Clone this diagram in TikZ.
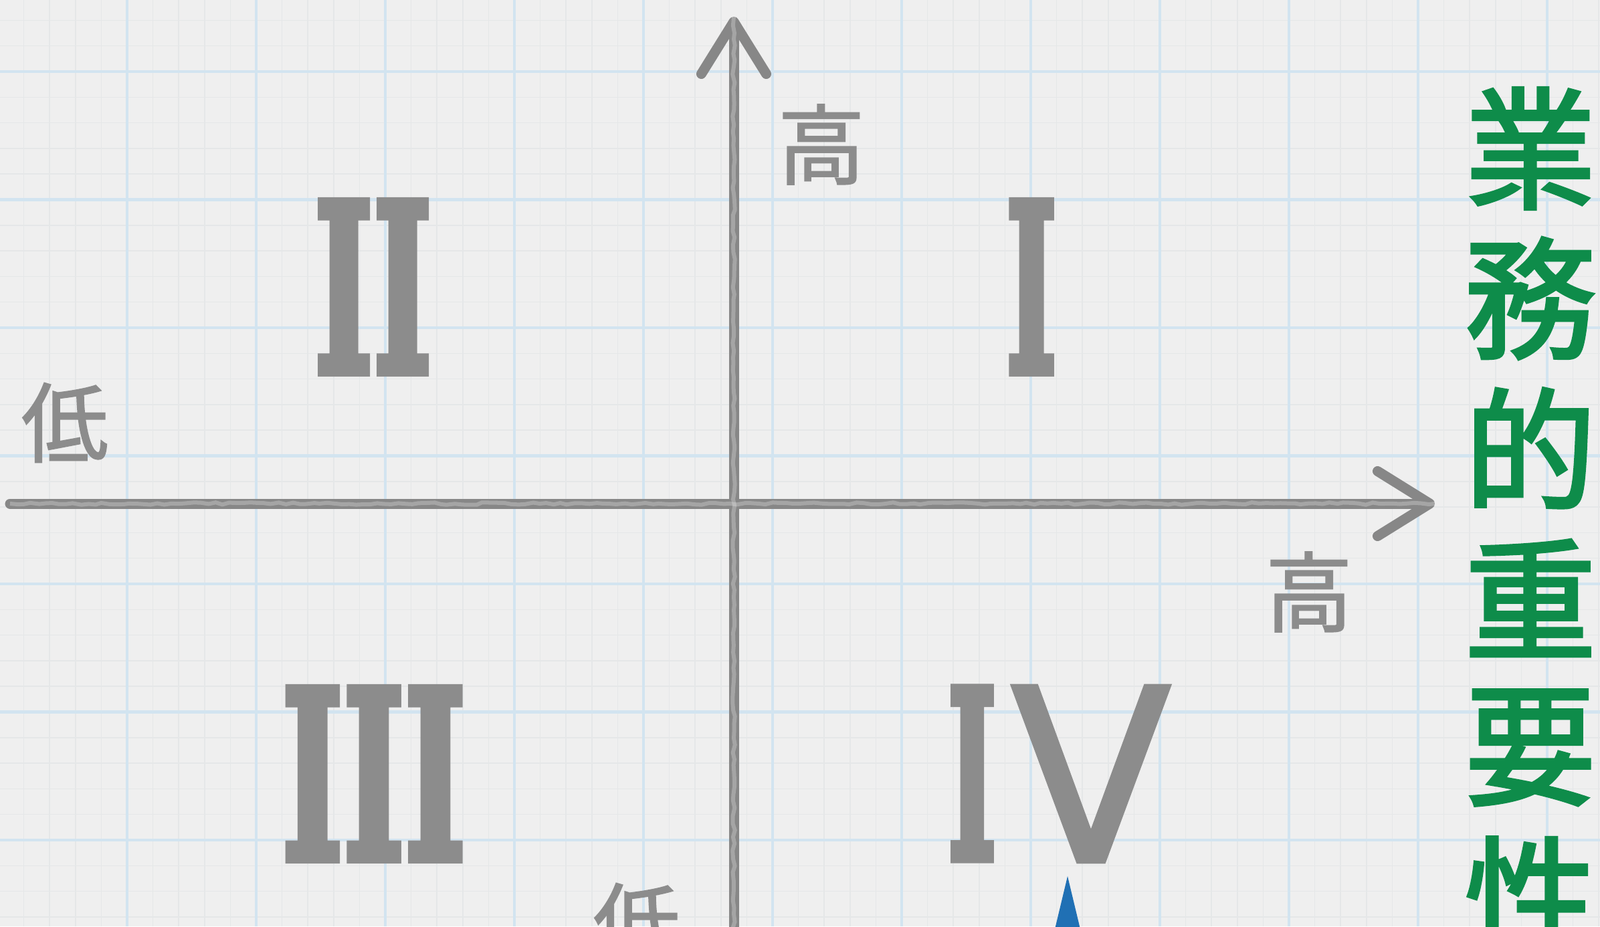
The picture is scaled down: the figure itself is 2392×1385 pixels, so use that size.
\documentclass[tikz,border=0pt]{standalone}
\usepackage{fontspec}
\usepackage{graphicx}
\usetikzlibrary{arrows.meta,decorations.pathmorphing}
\newfontfamily\jpfont{Noto Sans CJK JP}[FakeBold=1.5]
\newfontfamily\tcfont{Noto Sans CJK TC}[FakeBold=2.5]
\newfontfamily\romfont{DejaVu Serif Bold}[FakeBold=4]
\newfontfamily\vsans{DejaVu Sans}[FakeBold=1.5]
\definecolor{paperGray}{RGB}{239,239,239}
\definecolor{gridBlue}{RGB}{210,228,240}
\definecolor{gridFaint}{RGB}{229,231,232}
\definecolor{pencilGray}{RGB}{135,135,135}
\definecolor{inkGray}{RGB}{140,140,140}
\definecolor{termGreen}{RGB}{14,140,74}
\definecolor{markBlue}{RGB}{32,112,180}

\begin{document}
\begin{tikzpicture}[x=0.01cm,y=-0.01cm,
  grdmin/.style={draw=gridFaint,line width=0.15mm},
  grdmaj/.style={draw=gridBlue,line width=0.45mm},
  axis/.style={draw=pencilGray,line width=1.5mm,line cap=round,
               -{Straight Barb[length=7.8mm,width=9.7mm,round]}},
  grain/.style={draw=white,opacity=0.25,line width=0.6mm,
                decorate,decoration={random steps,segment length=3pt,amplitude=0.5pt}},
  numl/.style={inner sep=0pt,text=inkGray},
  lbl/.style={inner sep=0pt,text=inkGray,font=\jpfont\fontsize{37}{37}\selectfont},
  vlbl/.style={inner sep=0pt,text=termGreen,font=\tcfont\fontsize{56}{56}\selectfont}
]
  \path[use as bounding box] (0,0) rectangle (2392,1385);
  \clip (0,0) rectangle (2392,1385);
  \fill[paperGray] (0,0) rectangle (2392,1385);

  % graph paper
  \foreach \gx in {-3,35.6,...,2392} \draw[grdmin] (\gx,0) -- (\gx,1385);
  \foreach \gy in {-7.9,30.4,...,1385} \draw[grdmin] (0,\gy) -- (2392,\gy);
  \foreach \gx in {190,383,...,2392} \draw[grdmaj] (\gx,0) -- (\gx,1385);
  \foreach \gy in {107,298.5,...,1385} \draw[grdmaj] (0,\gy) -- (2392,\gy);

  % axes
  \coordinate (hbeg) at (15,753);
  \coordinate (htip) at (2145,753);
  \coordinate (vbeg) at (1097,1420);
  \coordinate (vtip) at (1097,25);
  \draw[axis] (hbeg) -- (htip);
  \draw[axis] (vbeg) -- (vtip);
  \draw[grain] (hbeg) -- (htip);
  \draw[grain] (vbeg) -- (vtip);

  \node[lbl] (yhi) at (1228,216) {高};
  \node[lbl] (xlo) at (97,632)   {低};
  \node[lbl] (xhi) at (1957,885) {高};
  \node[lbl] (ylo) at (952,1380) {低};

  % quadrants
  \node[numl] (q1) at (1542,429)
    {\resizebox{7.6mm}{25.4mm}{\romfont I}};
  \node[numl] (q2) at (558,429)
    {\resizebox{17.6mm}{25.4mm}{\romfont II}};
  \node[numl] (q3) at (559,1157)
    {\resizebox{27.5mm}{25.4mm}{\romfont III}};
  \node[numl] (q4) at (1584,1157)
    {\raisebox{0.5mm}{\resizebox{7.3mm}{25.4mm}{\romfont I}}\hspace{2.1mm}%
     \resizebox{24mm}{26.3mm}{\vsans V}};

  \fill[markBlue] (1596,1310) -- (1572,1410) -- (1620,1410) -- cycle;

  % vertical caption
  \foreach \ch [count=\i] in {業,務,的,重,要,性}
    \node[vlbl] (imp\i) at (2288,{222+224*(\i-1)}) {\ch};
\end{tikzpicture}
\end{document}
